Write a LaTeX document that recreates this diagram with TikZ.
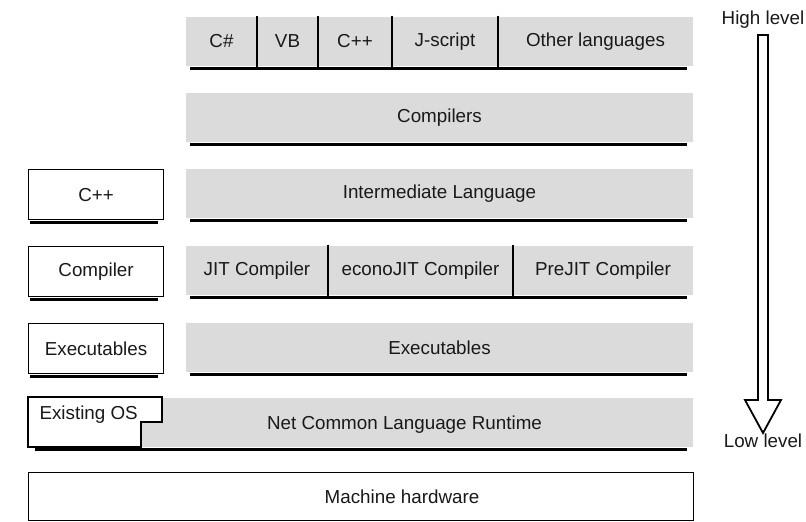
\documentclass[tikz,border=0pt]{standalone}
\usepackage{fontspec}
\setmainfont{Liberation Sans}
\usetikzlibrary{positioning,calc}
\definecolor{barfill}{gray}{0.86}

\begin{document}
\begin{tikzpicture}[
    x=1pt, y=-1pt,
    every node/.style={font=\fontsize{18.8}{22}\selectfont, text=black!90},
    bar/.style={fill=barfill, minimum height=49, inner sep=0, outer sep=0},
    cell/.style={bar},
    sidebox/.style={draw, line width=1.1pt, fill=white, minimum width=135, minimum height=50, inner sep=0, anchor=north west},
    rule/.style={line width=3pt},
    divider/.style={line width=2.2pt},
]
\useasboundingbox (0,0) rectangle (806,522);

% ---- Languages ----
\node[cell, minimum width=71, anchor=north west] (csharp) at (186,17) {C\#};
\node[cell, minimum width=61, right=0pt of csharp] (vb) {VB};
\node[cell, minimum width=74, right=0pt of vb] (cpp) {C++};
\node[cell, minimum width=106, right=0pt of cpp] (jscript) {J-script};
\node[cell, minimum width=195, right=0pt of jscript] (otherlang) {Other languages};
\foreach \c in {csharp,vb,cpp,jscript}
    \draw[divider] ([yshift=1.5pt]\c.north east) -- ([yshift=-2.5pt]\c.south east);
\draw[rule] ([xshift=4pt,yshift=-2.5pt]csharp.south west) -- ([xshift=-6pt,yshift=-2.5pt]otherlang.south east);

% ---- Compilers / IL ----
\node[bar, minimum width=507, anchor=north west] (compilers) at (186,93) {Compilers};
\draw[rule] ([xshift=4pt,yshift=-2.5pt]compilers.south west) -- ([xshift=-6pt,yshift=-2.5pt]compilers.south east);

\node[bar, minimum width=507, anchor=north west] (il) at (186,169) {Intermediate Language};
\draw[rule] ([xshift=4pt,yshift=-2.5pt]il.south west) -- ([xshift=-6pt,yshift=-2.5pt]il.south east);

% ---- JIT compilers ----
\node[cell, minimum width=142, anchor=north west] (jit) at (186,246) {JIT Compiler};
\node[cell, minimum width=185, right=0pt of jit] (econojit) {econoJIT Compiler};
\node[cell, minimum width=180, right=0pt of econojit] (prejit) {PreJIT Compiler};
\foreach \c in {jit,econojit}
    \draw[divider] ([yshift=1.5pt]\c.north east) -- ([yshift=-2.5pt]\c.south east);
\draw[rule] ([xshift=4pt,yshift=-2.5pt]jit.south west) -- ([xshift=-6pt,yshift=-2.5pt]prejit.south east);

% ---- Executables ----
\node[bar, minimum width=507, anchor=north west] (exec) at (186,323) {Executables};
\draw[rule] ([xshift=4pt,yshift=-2.5pt]exec.south west) -- ([xshift=-6pt,yshift=-2.5pt]exec.south east);

% ---- Runtime, partly covered by the OS box ----
\node[bar, minimum width=553, anchor=north west] (clr) at (140,398) {};
\node (clrtext) at ([xshift=-12pt,yshift=-2pt]clr.center) {Net Common Language Runtime};
\draw[rule] (35,449.5) -- ([xshift=-6pt,yshift=-2.5pt]clr.south east);
\draw[line width=1.1pt, fill=white] (28,397) -- (162,397) -- (162,422) -- (141,422) -- (141,447) -- (28,447) -- cycle;
\node[anchor=west] (os) at (36,415) {Existing OS};

% ---- Hardware ----
\node[sidebox, minimum width=665, minimum height=48] (hw) at (28,472) {};
\node (hwtext) at ([xshift=41pt]hw.center) {Machine hardware};

% ---- Left column ----
\node[sidebox] (lcpp) at (28,169) {C++};
\node[sidebox] (lcomp) at (28,246) {Compiler};
\node[sidebox] (lexec) at (28,323) {Executables};
\foreach \b in {lcpp,lcomp,lexec}
    \draw[rule] ([xshift=2pt,yshift=-2.5pt]\b.south west) -- ([xshift=-6pt,yshift=-2.5pt]\b.south east);

% ---- Level arrow ----
\node (high) at (763,20) {High level};
\node (low) at (763,441) {Low level};
\draw[line width=1.8pt, fill=white] (758,35) -- (768,35) -- (768,400) -- (781,400)
    -- (763,433) -- (745,400) -- (758,400) -- cycle;

\end{tikzpicture}
\end{document}
